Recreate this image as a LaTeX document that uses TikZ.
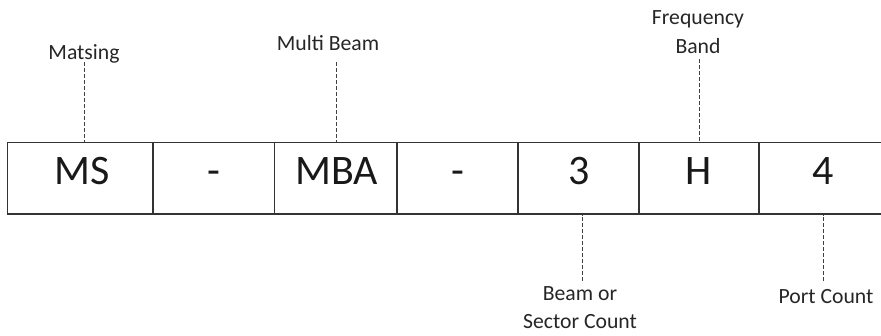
\documentclass[tikz,border=0pt]{standalone}
\usepackage{fontspec}
\setmainfont{Carlito}
\begin{document}
\begin{tikzpicture}[x=1bp,y=-1bp,
  cell/.style={draw=black!80,line width=1.4bp,rectangle,inner sep=0pt,minimum height=71.3bp},
  big/.style={font=\fontsize{42bp}{48bp}\selectfont,text=black!90,inner sep=0pt,anchor=base},
  lbl/.style={font=\fontsize{21.7bp}{26bp}\selectfont,text=black!85,inner sep=0pt,anchor=base},
  lead/.style={draw=black!75,line width=1bp,dash pattern=on 4bp off 2bp}]
\useasboundingbox (0,0) rectangle (881,335);
% cells
\node[cell,minimum width=145.7bp] (c1) at (80.15,178.35) {};
\node[cell,minimum width=121.5bp] (c2) at (213.75,178.35) {};
\node[cell,minimum width=122.5bp] (c3) at (335.75,178.35) {};
\node[cell,minimum width=121bp] (c4) at (457.5,178.35) {};
\node[cell,minimum width=121bp] (c5) at (578.5,178.35) {};
\node[cell,minimum width=120bp] (c6) at (699,178.35) {};
\node[cell,minimum width=128bp] (c7) at (823,178.35) {};
% cell texts
\node[big] (t1) at (82,184.3) {MS};
\node[big] (t2) at (213.75,184.3) {-};
\node[big] (t3) at (336.5,184.3) {MBA};
\node[big] (t4) at (457.5,184.3) {-};
\node[big] (t5) at (579,184.3) {3};
\node[big] (t6) at (699,184.3) {H};
\node[big] (t7) at (823,184.3) {4};
% labels
\node[lbl] (l1) at (84,59.3) {Matsing};
\node[lbl] (l2) at (328,50.7) {Multi Beam};
\node[lbl] (l3a) at (698,24) {Frequency};
\node[lbl] (l3b) at (698,53.3) {Band};
\node[lbl] (l4a) at (580,300) {Beam or};
\node[lbl] (l4b) at (580,328.3) {Sector Count};
\node[lbl] (l5) at (826,303.3) {Port Count};
% leader coordinates
\coordinate (d1) at (84,62);
\coordinate (d2) at (336,62);
\coordinate (d3) at (699,59);
\coordinate (d4) at (582,281);
\coordinate (d5) at (823,281);
\draw[lead] (d1) -- (d1 |- c1.north);
\draw[lead] (d2) -- (d2 |- c3.north);
\draw[lead] (d3) -- (d3 |- c6.north);
\draw[lead] (d4) -- (d4 |- c5.south);
\draw[lead] (d5) -- (d5 |- c7.south);
\end{tikzpicture}
\end{document}
